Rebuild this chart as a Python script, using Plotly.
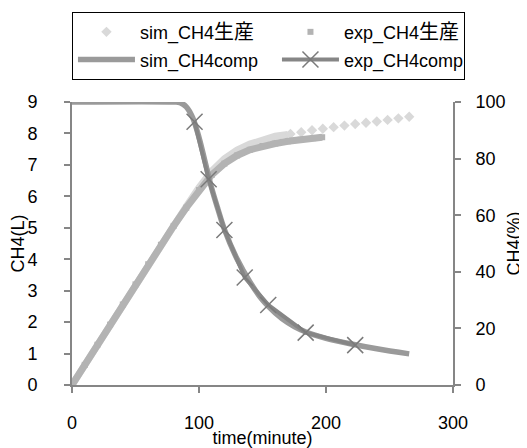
import plotly.graph_objects as go

# ---- data ----
sim_prod_t = [0, 10, 20, 30, 40, 50, 60, 70, 80, 90, 100, 110, 120, 130, 140, 150, 160, 170]
sim_prod_v = [0, 0.64, 1.28, 1.92, 2.56, 3.2, 3.84, 4.47, 5.08, 5.68, 6.28, 6.8, 7.2, 7.47, 7.66, 7.8, 7.91, 7.97]
sim_prod_t2 = [172, 180.5, 189, 197.5, 206, 214.5, 223, 231.5, 240, 248.5, 257, 265.5]
sim_prod_v2 = [7.98, 8.04, 8.1, 8.15, 8.2, 8.25, 8.3, 8.34, 8.38, 8.43, 8.48, 8.53]

exp_prod_t = [0, 10, 20, 30, 40, 50, 60, 70, 80, 90, 100, 110, 120, 130, 140, 150, 160, 170, 180, 190, 197]
exp_prod_v = [0, 0.64, 1.28, 1.92, 2.56, 3.2, 3.84, 4.46, 5.06, 5.64, 6.2, 6.68, 7.04, 7.3, 7.48, 7.6, 7.68, 7.75, 7.8, 7.85, 7.88]

sim_comp_t = [0, 80, 85, 90, 95, 100, 105, 110, 115, 120, 130, 140, 150, 160, 170, 180, 190, 200, 220, 240, 265.5]
sim_comp_v = [100, 100, 99.8, 98.3, 94.5, 87.5, 78.5, 69.5, 62, 55, 44.5, 36.5, 30, 25.5, 22, 19.5, 17.8, 16.5, 14.5, 12.8, 11]

exp_comp_t = [96.5, 107.6, 120, 136, 154.5, 184, 223]
exp_comp_v = [93, 72.7, 54.8, 38, 28.3, 18.5, 14.1]

x_ticks = [0, 100, 200, 300]
legend_names = [("sim_CH4", "生産"), ("exp_CH4", "生産"), ("sim_CH4comp", ""), ("exp_CH4comp", "")]
font_family = "Liberation Sans, Noto Sans CJK JP, sans-serif"
axis_color = "#868686"


def lg(parts):
    latin, cjk = parts
    s = "<span style='font-size:18px'>" + latin + "</span>"
    if cjk:
        s += "<span style='font-size:20px'>" + cjk + "</span>"
    return s


fig = go.Figure()

# sim_CH4生産 : dense part appears as a continuous band of diamonds
fig.add_trace(go.Scatter(x=sim_prod_t, y=sim_prod_v, mode="lines",
                         line=dict(color="#d9d9d9", width=7), showlegend=False,
                         hoverinfo="skip"))
fig.add_trace(go.Scatter(x=sim_prod_t2, y=sim_prod_v2, mode="markers", name=lg(legend_names[0]),
                         marker=dict(symbol="diamond", size=8, color="#d9d9d9"),
                         legendwidth=132))
# exp_CH4生産
fig.add_trace(go.Scatter(x=exp_prod_t, y=exp_prod_v, mode="markers", name=lg(legend_names[1]),
                         marker=dict(symbol="square", size=6, color="#b3b3b3"),
                         legendwidth=115))
fig.add_trace(go.Scatter(x=exp_prod_t, y=exp_prod_v, mode="lines",
                         line=dict(color="#b3b3b3", width=7), showlegend=False,
                         hoverinfo="skip"))
# sim_CH4comp
fig.add_trace(go.Scatter(x=sim_comp_t, y=sim_comp_v, mode="lines", name=lg(legend_names[2]),
                         line=dict(color="#9a9a9a", width=5.5, shape="spline"),
                         yaxis="y2", legendwidth=132))
# exp_CH4comp
fig.add_trace(go.Scatter(x=exp_comp_t, y=exp_comp_v, mode="lines+markers", name=lg(legend_names[3]),
                         line=dict(color="#868686", width=4),
                         marker=dict(symbol="x-thin", size=16,
                                     line=dict(color="#7a7a7a", width=1.5)),
                         yaxis="y2", legendwidth=115))

axis_common = dict(showgrid=False, zeroline=False, automargin=False,
                   showline=True, linecolor=axis_color, linewidth=2,
                   ticks="outside", ticklen=6, tickwidth=2, tickcolor=axis_color,
                   tickfont=dict(size=18))

# the page adds an 8px body margin, so the figure is 8px smaller than the window
fig.update_layout(
    width=519, height=440,
    margin=dict(l=64, r=74, t=94, b=63, autoexpand=False),
    paper_bgcolor="white", plot_bgcolor="white",
    font=dict(family=font_family, size=18, color="black"),
    showlegend=True,
    legend=dict(orientation="h", x=-0.0001, xanchor="left", y=1.318, yanchor="top",
                bordercolor="black", borderwidth=1, bgcolor="white",
                font=dict(size=19), tracegroupgap=0, itemwidth=57),
    xaxis=dict(range=[0, 300], tickvals=x_ticks, ticklabelstandoff=14,
               title=dict(text="time(minute)", font=dict(size=18), standoff=13),
               **axis_common),
    yaxis=dict(range=[0, 9], dtick=1, ticklabelstandoff=23,
               title=dict(text="CH4(L)", font=dict(size=18), standoff=14),
               **axis_common),
    yaxis2=dict(range=[0, 100], dtick=20, overlaying="y", side="right",
                ticklabelstandoff=11,
                title=dict(text="CH4(%)", font=dict(size=18), standoff=3),
                **axis_common),
)

fig.write_html("out.html")
